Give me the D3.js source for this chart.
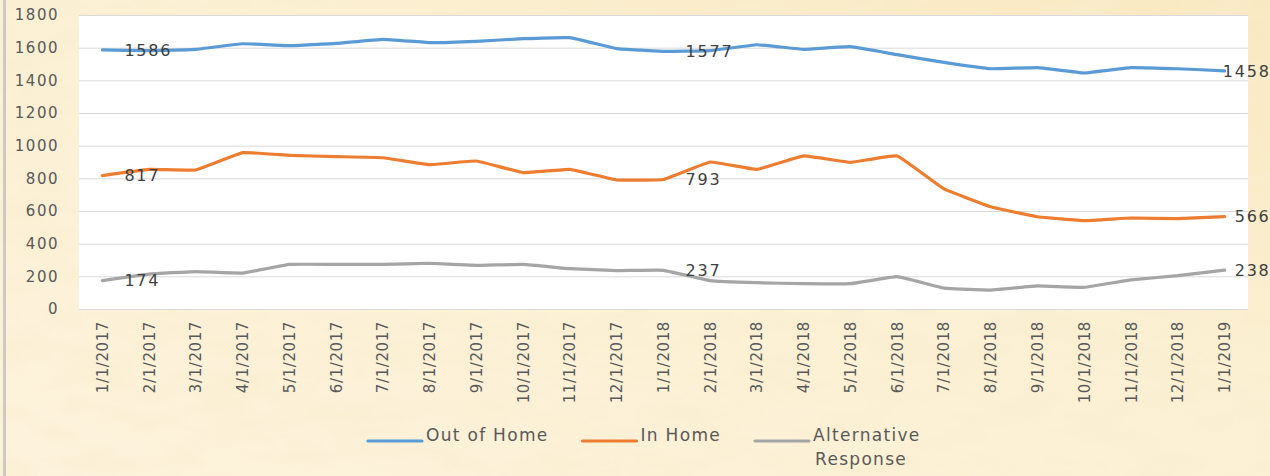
<html>
<head>
<script src="https://d3js.org/d3.v7.min.js"></script>
<style>
body { margin: 0; background: #fcefd0; }
svg { display: block; font-family: 'DejaVu Sans', sans-serif; }
.grid line { stroke: #d9d9d9; stroke-width: 1; }
.ytick { fill: #595959; font-size: 15px; letter-spacing: 1.5px; }
.xtick { fill: #595959; font-size: 15px; letter-spacing: 0.6px; }
.dlabel { fill: #404040; font-size: 16px; letter-spacing: 1.8px; }
.legend text { fill: #595959; font-size: 17px; letter-spacing: 1.3px; }
</style>
</head>
<body>
<svg id="chart" width="1270" height="476"></svg>
<script>
// months shown on the x axis
var dates = ["1/1/2017","2/1/2017","3/1/2017","4/1/2017","5/1/2017","6/1/2017","7/1/2017",
    "8/1/2017","9/1/2017","10/1/2017","11/1/2017","12/1/2017","1/1/2018","2/1/2018","3/1/2018",
    "4/1/2018","5/1/2018","6/1/2018","7/1/2018","8/1/2018","9/1/2018","10/1/2018","11/1/2018",
    "12/1/2018","1/1/2019"];

var outOfHome = [1586,1582,1590,1624,1612,1626,1651,1631,1639,1655,1661,1594,1577,
    1582,1618,1590,1606,1557,1510,1471,1478,1445,1478,1471,1458];
var inHome = [817,855,851,957,941,933,926,884,906,835,855,790,793,
    900,855,937,898,937,735,626,565,541,557,553,566];
var altResponse = [174,214,229,220,273,273,273,280,267,273,247,235,237,
    174,161,155,155,198,128,116,141,133,178,204,238];

var yTicks = [0,200,400,600,800,1000,1200,1400,1600,1800];
var labelIdx = [0, 12, 24]; // points that carry a data label

var series = [
    { name: "Out of Home", values: outOfHome, color: "#5b9bd5" },
    { name: "In Home", values: inHome, color: "#ed7d31" },
    { name: "Alternative Response", values: altResponse, color: "#a5a5a5" }
];

var svg = d3.select("#chart");
var W = 1270, H = 476;
var plot = { left: 79, right: 1248, top: 15, bottom: 309 };

// ----- parchment background -----
var defs = svg.append("defs");
var paper = defs.append("filter").attr("id", "paper")
    .attr("x", 0).attr("y", 0).attr("width", "100%").attr("height", "100%");
paper.append("feTurbulence").attr("type", "fractalNoise")
    .attr("baseFrequency", "0.015 0.035").attr("numOctaves", 4).attr("seed", 7);
paper.append("feColorMatrix").attr("type", "matrix")
    .attr("values", "0 0 0 0 0.94  0 0 0 0 0.85  0 0 0 0 0.62  1.4 0 0 0 -0.55");

var grad = defs.append("linearGradient").attr("id", "tone")
    .attr("x1", 0).attr("y1", 1).attr("x2", 1).attr("y2", 0);
grad.append("stop").attr("offset", 0).attr("stop-color", "#fdf3dc");
grad.append("stop").attr("offset", 0.6).attr("stop-color", "#fcf0d3");
grad.append("stop").attr("offset", 1).attr("stop-color", "#f9e8bf");

svg.append("rect").attr("width", W).attr("height", H).attr("fill", "url(#tone)");
svg.append("rect").attr("width", W).attr("height", H).attr("filter", "url(#paper)");
// thin grey edge on the left
svg.append("rect").attr("x", 3).attr("y", 0).attr("width", 3).attr("height", H).attr("fill", "#cfcac0");

// ----- scales -----
var x = d3.scalePoint().domain(dates).range([plot.left, plot.right]).padding(0.5);
var y = d3.scaleLinear().domain([0, 1800]).range([plot.bottom, plot.top]);

// plot area
svg.append("rect")
    .attr("x", plot.left).attr("y", plot.top)
    .attr("width", plot.right - plot.left).attr("height", plot.bottom - plot.top)
    .attr("fill", "#ffffff");

// gridlines
svg.append("g").attr("class", "grid")
    .selectAll("line").data(yTicks).enter().append("line")
    .attr("x1", plot.left).attr("x2", plot.right)
    .attr("y1", function(d) { return y(d) + 0.5; })
    .attr("y2", function(d) { return y(d) + 0.5; });

// y tick labels
svg.append("g").selectAll("text").data(yTicks).enter().append("text")
    .attr("class", "ytick")
    .attr("x", 59)
    .attr("y", function(d) { return y(d); })
    .attr("dy", "0.36em")
    .attr("text-anchor", "end")
    .text(function(d) { return d; });

// x tick labels, rotated
svg.append("g").selectAll("text").data(dates).enter().append("text")
    .attr("class", "xtick")
    .attr("transform", function(d) { return "translate(" + x(d) + "," + (plot.bottom + 12) + ") rotate(-90)"; })
    .attr("dy", "0.36em")
    .attr("text-anchor", "end")
    .text(function(d) { return d; });

// ----- lines -----
var line = d3.line()
    .x(function(d, i) { return x(dates[i]); })
    .y(function(d) { return y(d); })
    .curve(d3.curveCardinal.tension(0.75));

svg.append("g").selectAll("path").data(series).enter().append("path")
    .attr("d", function(s) { return line(s.values); })
    .attr("fill", "none")
    .attr("stroke", function(s) { return s.color; })
    .attr("stroke-width", 3.2)
    .attr("stroke-linejoin", "round")
    .attr("stroke-linecap", "round");

// data labels
series.forEach(function(s) {
    labelIdx.forEach(function(i) {
        var last = (i === dates.length - 1);
        svg.append("text")
            .attr("class", "dlabel")
            .attr("x", last ? x(dates[i]) + 46 : x(dates[i]) + 22)
            .attr("y", y(s.values[i]))
            .attr("dy", "0.36em")
            .attr("text-anchor", last ? "end" : "start")
            .text(s.values[i]);
    });
});

// ----- legend -----
var legend = svg.append("g").attr("class", "legend");
var lx = 368, ly = 441;
series.forEach(function(s) {
    legend.append("line")
        .attr("x1", lx).attr("x2", lx + 54)
        .attr("y1", ly).attr("y2", ly)
        .attr("stroke", s.color).attr("stroke-width", 3.2)
        .attr("stroke-linecap", "round");
    var words = s.name === "Alternative Response" ? ["Alternative", "Response"] : [s.name];
    var t = legend.append("text").attr("x", lx + 58).attr("y", ly).attr("dy", "0.36em");
    words.forEach(function(w, k) {
        t.append("tspan").attr("x", lx + 58 + (k ? 2 : 0)).attr("dy", k ? "1.4em" : 0).text(w);
    });
    lx = lx + 58 + t.node().getBBox().width + 34;
});
</script>
</body>
</html>
